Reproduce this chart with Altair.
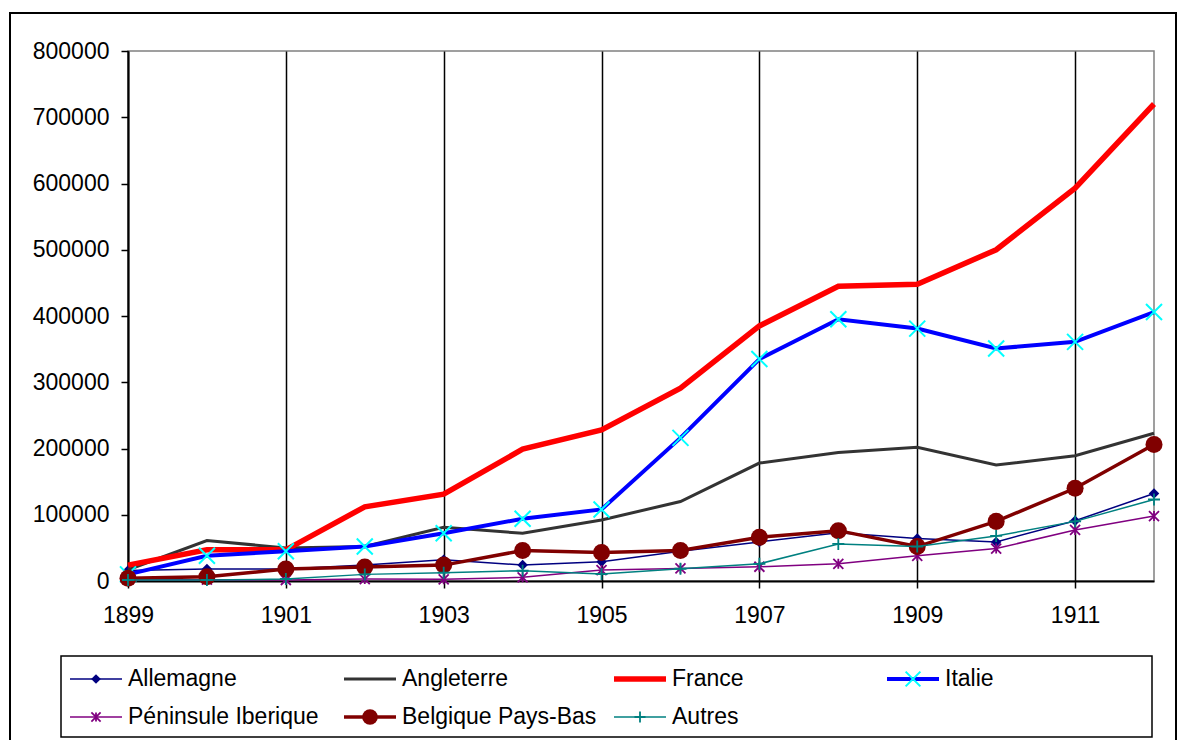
import altair as alt
import pandas as pd

# ---------------- data ----------------
years = list(range(1899, 1913))
allemagne = [16000, 18000, 18000, 24000, 32000, 24000, 29000, 45000, 59000, 73000, 64000, 59000, 91000, 132000]
angleterre = [17000, 61000, 50000, 52000, 81000, 72000, 92000, 120000, 178000, 194000, 202000, 175000, 189000, 223000]
france = [24000, 47000, 47000, 112000, 131000, 199000, 228000, 291000, 385000, 445000, 448000, 500000, 593000, 720000]
italie = [10000, 38000, 45000, 52000, 72000, 94000, 108000, 216000, 335000, 395000, 381000, 351000, 361000, 406000]
peninsule = [2000, 2000, 1500, 3000, 2500, 5500, 16500, 19000, 21500, 26000, 38000, 49000, 77000, 98000]
belgique = [4000, 6500, 18000, 21000, 24000, 46000, 43000, 46000, 66000, 76000, 52000, 90000, 140000, 206000]
autres = [1500, 1500, 3000, 10000, 12500, 15500, 10500, 18500, 26000, 56000, 52000, 68000, 90000, 123000]

series_names = ["Allemagne", "Angleterre", "France", "Italie",
                "Péninsule Iberique", "Belgique Pays-Bas", "Autres"]
series_values = [allemagne, angleterre, france, italie, peninsule, belgique, autres]

x_tick_labels = [1899, 1901, 1903, 1905, 1907, 1909, 1911]
y_tick_values = [0, 100000, 200000, 300000, 400000, 500000, 600000, 700000, 800000]

# ---------------- styles ----------------
X_PATH = "M-1,-1L1,1M-1,1L1,-1"
STAR_PATH = "M-1,-1L1,1M-1,1L1,-1M0,-1L0,1"
PLUS_PATH = "M-1,0L1,0M0,-1L0,1"

styles = {
    "Allemagne": dict(color="#000080", width=1.5, shape="diamond", size=110, filled=True, mcolor="#000080", msw=1),
    "Angleterre": dict(color="#333333", width=3, shape=None),
    "France": dict(color="#FF0000", width=5.5, shape=None),
    "Italie": dict(color="#0000FF", width=4, shape=X_PATH, size=256, filled=False, mcolor="#00FFFF", msw=2),
    "Péninsule Iberique": dict(color="#800080", width=1.5, shape=STAR_PATH, size=100, filled=False, mcolor="#800080", msw=1.8),
    "Belgique Pays-Bas": dict(color="#800000", width=3.5, shape="circle", size=290, filled=True, mcolor="#800000", msw=1),
    "Autres": dict(color="#008080", width=1.5, shape=PLUS_PATH, size=144, filled=False, mcolor="#008080", msw=1.8),
}

FONT = "Liberation Sans"
FS = 23
W, H = 1026, 530

rows = []
for name, vals in zip(series_names, series_values):
    for yr, v in zip(years, vals):
        rows.append({"year": yr, "value": v, "series": name})
df = pd.DataFrame(rows)

x_enc = alt.X(
    "year:Q",
    scale=alt.Scale(domain=[1899, 1912], nice=False, zero=False),
    axis=alt.Axis(values=x_tick_labels, format="d", title=None, grid=True,
                  gridColor="black", gridWidth=1.5, gridOpacity=1,
                  domainColor="black", domainWidth=2, tickColor="black",
                  tickWidth=1.5, tickSize=7, labelFontSize=FS, labelFont=FONT,
                  labelColor="black", labelPadding=16, labelFlush=False),
)
y_enc = alt.Y(
    "value:Q",
    scale=alt.Scale(domain=[0, 800000], nice=False),
    axis=alt.Axis(values=y_tick_values, format="d", title=None, grid=False,
                  domainColor="black", domainWidth=2, tickColor="black",
                  tickWidth=1.5, tickSize=7, labelFontSize=FS, labelFont=FONT,
                  labelColor="black", labelPadding=12),
)

layers = []

# outer frame (decorative)
layers.append(
    alt.Chart(alt.Data(values=[{"k": 0}])).mark_rect(
        filled=False, stroke="black", strokeWidth=2
    ).encode(x=alt.value(-118), x2=alt.value(1048), y=alt.value(-38), y2=alt.value(730))
)

for name in series_names:
    st = styles[name]
    sub = df[df["series"] == name]
    base = alt.Chart(sub).encode(x=x_enc, y=y_enc)
    layers.append(base.mark_line(color=st["color"], strokeWidth=st["width"], strokeJoin="miter"))
    if st["shape"]:
        layers.append(base.mark_point(shape=st["shape"], size=st["size"], filled=st["filled"],
                                      color=st["mcolor"], strokeWidth=st["msw"], opacity=1))

# ---------------- legend (drawn manually, Excel style) ----------------
leg_left, leg_right, leg_top, leg_bottom = -67, 1024, 605, 686
layers.append(
    alt.Chart(alt.Data(values=[{"k": 0}])).mark_rect(
        filled=False, stroke="black", strokeWidth=1.5
    ).encode(x=alt.value(leg_left), x2=alt.value(leg_right), y=alt.value(leg_top), y2=alt.value(leg_bottom))
)
col_x = [-58, 216, 486, 759]
row_y = [628, 666]
sym_len = 52
for i, name in enumerate(series_names):
    st = styles[name]
    cx = col_x[i % 4]
    cy = row_y[i // 4]
    one = alt.Chart(alt.Data(values=[{"label": name}]))
    layers.append(one.mark_rule(color=st["color"], strokeWidth=st["width"]).encode(
        x=alt.value(cx), x2=alt.value(cx + sym_len), y=alt.value(cy)))
    if st["shape"]:
        layers.append(one.mark_point(shape=st["shape"], size=st["size"] * 0.85, filled=st["filled"],
                                     color=st["mcolor"], strokeWidth=st["msw"], opacity=1).encode(
            x=alt.value(cx + sym_len / 2), y=alt.value(cy)))
    layers.append(one.mark_text(align="left", baseline="middle", fontSize=FS, font=FONT,
                                color="black").encode(
        x=alt.value(cx + sym_len + 6), y=alt.value(cy), text="label:N"))

chart = alt.layer(*layers).properties(
    width=W, height=H,
    autosize=alt.AutoSizeParams(type="none"),
    padding={"left": 120, "top": 43, "right": 24, "bottom": 180},
    background="white",
).configure_view(stroke="#808080", strokeWidth=1.5)

chart.save("out.html", embed_options={"renderer": "svg", "actions": False})
